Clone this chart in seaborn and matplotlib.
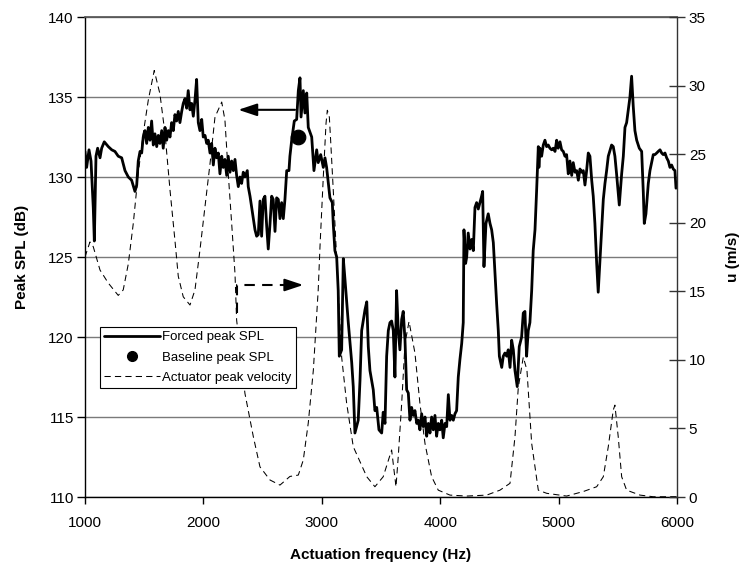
import matplotlib
matplotlib.use("Agg")
import matplotlib.pyplot as plt
import seaborn as sns
import pandas as pd
from matplotlib.lines import Line2D

# ---------------- data ----------------
freq_spl = [1000, 1014, 1034, 1051, 1070, 1079, 1093, 1107, 1127, 1141, 1163, 1197, 1226, 1253, 1281, 1310,
            1338, 1366, 1394, 1422, 1437, 1450, 1465, 1479, 1492, 1507, 1521, 1535, 1549, 1563, 1577, 1591,
            1606, 1619, 1633, 1648, 1661, 1676, 1690, 1704, 1718, 1732, 1746, 1760, 1774, 1788, 1802, 1817,
            1830, 1845, 1859, 1872, 1887, 1901, 1915, 1929, 1943, 1957, 1971, 1986, 1999, 2014, 2028, 2041,
            2056, 2070, 2084, 2098, 2112, 2126, 2140, 2155, 2168, 2182, 2197, 2210, 2225, 2239, 2253, 2267,
            2281, 2295, 2309, 2323, 2337, 2351, 2371, 2379, 2394, 2408, 2436, 2450, 2464, 2478, 2492, 2506,
            2520, 2535, 2548, 2563, 2577, 2590, 2605, 2619, 2633, 2647, 2661, 2675, 2689, 2704, 2723, 2731,
            2746, 2768, 2788, 2802, 2816, 2825, 2844, 2858, 2873, 2886, 2915, 2934, 2957, 2970, 2991, 3013,
            3027, 3041, 3069, 3089, 3097, 3111, 3126, 3139, 3148, 3168, 3182, 3196, 3224, 3253, 3266, 3280,
            3308, 3323, 3337, 3365, 3380, 3393, 3407, 3435, 3449, 3464, 3483, 3506, 3519, 3534, 3548, 3562,
            3576, 3590, 3604, 3618, 3632, 3646, 3660, 3675, 3688, 3703, 3717, 3731, 3745, 3759, 3773, 3787,
            3802, 3815, 3829, 3844, 3857, 3872, 3886, 3900, 3914, 3928, 3942, 3956, 3970, 3984, 3998, 4013,
            4026, 4041, 4055, 4069, 4083, 4097, 4111, 4125, 4139, 4153, 4167, 4182, 4195, 4201, 4215, 4224,
            4237, 4252, 4266, 4280, 4294, 4308, 4322, 4336, 4350, 4359, 4370, 4387, 4406, 4421, 4435, 4449,
            4463, 4477, 4491, 4500, 4520, 4533, 4547, 4562, 4575, 4590, 4604, 4618, 4632, 4651, 4668, 4688,
            4702, 4716, 4730, 4744, 4758, 4773, 4786, 4801, 4815, 4829, 4834, 4843, 4857, 4871, 4885, 4899,
            4913, 4927, 4942, 4955, 4970, 4984, 4997, 5012, 5026, 5040, 5054, 5068, 5082, 5096, 5111, 5124,
            5139, 5153, 5167, 5181, 5195, 5209, 5223, 5237, 5251, 5265, 5280, 5293, 5307, 5322, 5335, 5350,
            5364, 5378, 5392, 5406, 5420, 5448, 5462, 5476, 5490, 5513, 5533, 5547, 5561, 5575, 5589, 5603,
            5617, 5631, 5645, 5660, 5682, 5702, 5716, 5724, 5738, 5758, 5772, 5786, 5800, 5814, 5829, 5842,
            5857, 5871, 5884, 5899, 5913, 5927, 5941, 5955, 5969, 5983, 5992]
spl_db = [131.6, 130.6, 131.7, 131.0, 128.1, 126.0, 131.3, 131.8, 131.2, 131.8, 132.2, 131.9, 131.7, 131.6, 131.3, 131.2,
          130.4, 130.0, 129.8, 129.1, 129.5, 131.0, 131.6, 131.5, 132.5, 132.9, 132.1, 133.1, 132.3, 133.5, 132.0, 132.7,
          131.9, 132.6, 132.1, 132.9, 131.8, 133.1, 132.3, 132.9, 132.5, 133.4, 132.9, 133.9, 133.5, 134.1, 133.4, 134.1,
          134.6, 134.9, 134.3, 135.4, 134.2, 134.6, 133.8, 134.8, 136.1, 133.4, 132.9, 133.6, 132.5, 132.6, 132.1, 132.3,
          131.5, 132.1, 130.75, 131.8, 131.2, 131.5, 130.2, 131.3, 130.6, 131.1, 130.1, 131.3, 130.3, 131.0, 130.4, 131.1,
          130.1, 129.4, 130.0, 129.6, 130.3, 130.0, 130.4, 129.4, 128.8, 128.1, 126.7, 126.3, 126.4, 128.5, 126.3, 128.6,
          128.8, 126.9, 125.5, 127.1, 128.8, 128.6, 126.6, 128.7, 128.6, 127.4, 128.4, 127.4, 128.6, 130.4, 130.4, 131.3,
          132.3, 133.5, 133.6, 135.4, 136.2, 133.75, 135.4, 134.0, 135.25, 133.1, 132.5, 130.4, 131.7, 130.9, 131.4, 130.6,
          131.2, 130.6, 128.7, 128.4, 127.1, 125.4, 125.0, 122.9, 118.8, 119.2, 124.9, 123.6, 120.9, 118.4, 116.9, 114.0,
          114.8, 117.3, 120.4, 121.7, 122.2, 119.4, 117.9, 116.7, 115.4, 115.6, 114.2, 114.0, 115.3, 114.6, 118.8, 120.4,
          120.9, 121.0, 120.4, 117.5, 122.9, 120.4, 119.2, 121.1, 121.6, 119.8, 116.7, 116.5, 114.8, 115.6, 115.1, 115.4,
          114.6, 114.8, 114.2, 115.2, 114.4, 115.0, 113.8, 114.6, 114.0, 115.0, 114.2, 115.1, 113.8, 114.6, 114.2, 114.8,
          113.7, 114.6, 114.4, 116.4, 114.8, 115.1, 114.8, 115.2, 115.4, 117.5, 118.6, 119.6, 120.9, 126.7, 124.6, 125.0,
          126.5, 125.5, 126.1, 125.4, 128.1, 128.4, 128.0, 128.4, 128.8, 129.1, 124.4, 127.1, 127.7, 127.1, 126.7, 125.9,
          124.0, 122.1, 120.4, 118.8, 118.1, 118.8, 119.0, 118.8, 119.2, 118.1, 119.8, 119.2, 117.9, 116.9, 119.4, 120.0,
          121.5, 121.6, 118.8, 120.4, 120.9, 122.9, 125.4, 126.7, 129.2, 131.9, 130.6, 131.8, 131.3, 132.0, 132.3, 131.9,
          132.0, 131.8, 131.7, 131.8, 131.6, 132.3, 131.8, 132.2, 131.7, 131.6, 131.3, 131.4, 130.2, 131.0, 130.1, 130.9,
          130.3, 130.4, 129.8, 130.5, 130.3, 130.4, 129.5, 130.4, 131.5, 131.3, 129.8, 128.8, 127.1, 124.6, 122.8, 124.8,
          126.7, 128.6, 129.6, 130.4, 131.3, 132.0, 131.9, 131.3, 130.2, 128.25, 130.2, 131.3, 133.1, 133.4, 134.2, 135.0,
          136.3, 134.4, 132.9, 132.3, 131.8, 131.6, 129.0, 127.1, 127.7, 129.6, 130.4, 130.9, 131.4, 131.4, 131.5, 131.6,
          131.7, 131.5, 131.4, 131.5, 131.2, 131.0, 130.6, 130.75, 130.5, 130.4, 129.3]

freq_vel = [1000, 1042, 1070, 1127, 1197, 1281, 1323, 1366, 1408, 1450, 1492, 1535, 1585, 1633, 1676, 1718,
            1760, 1788, 1830, 1887, 1929, 1971, 2014, 2056, 2098, 2155, 2182, 2210, 2239, 2267, 2281, 2351,
            2422, 2478, 2563, 2647, 2731, 2802, 2844, 2886, 2929, 2970, 2985, 3013, 3036, 3047, 3064, 3075,
            3097, 3139, 3168, 3210, 3266, 3380, 3449, 3519, 3590, 3610, 3627, 3646, 3675, 3703, 3737, 3787,
            3829, 3872, 3928, 3984, 4083, 4224, 4393, 4505, 4590, 4632, 4660, 4702, 4733, 4773, 4829, 4900,
            5068, 5209, 5322, 5378, 5420, 5462, 5476, 5504, 5533, 5575, 5688, 5800, 5997]
vel_ms = [17.5, 18.6, 18.25, 16.55, 15.6, 14.7, 15.1, 17.0, 19.95, 23.6, 26.5, 28.95, 31.1, 29.4, 26.5, 22.4,
          18.7, 16.1, 14.6, 14.0, 15.1, 18.0, 21.2, 24.3, 27.7, 28.8, 27.5, 23.6, 19.95, 16.3, 12.9, 7.56,
          4.4, 2.2, 1.24, 0.87, 1.5, 1.6, 2.7, 5.4, 9.26, 15.1, 18.25, 23.35, 27.25, 28.2, 27.7, 26.0,
          22.4, 15.1, 10.2, 6.85, 3.67, 1.48, 0.75, 1.48, 3.43, 1.97, 0.75, 2.94, 6.83, 11.2, 12.8, 10.5,
          6.83, 3.9, 1.48, 0.5, 0.14, 0.07, 0.14, 0.5, 1.0, 4.4, 8.0, 10.2, 9.26, 3.9, 0.5, 0.27,
          0.07, 0.4, 0.75, 1.48, 3.67, 6.34, 6.7, 4.4, 1.48, 0.5, 0.14, 0.02, 0.02]

baseline_freq = [2802]
baseline_spl = [132.5]

series_labels = ["Forced peak SPL", "Baseline peak SPL", "Actuator peak velocity"]
x_ticks = [1000, 2000, 3000, 4000, 5000, 6000]
spl_ticks = [110, 115, 120, 125, 130, 135, 140]
vel_ticks = [0, 5, 10, 15, 20, 25, 30, 35]

# annotation arrows (data units)
solid_arrow = dict(x_from=2774, x_to=2295, y=134.2)
dashed_arrow = dict(x=2281, y_from=13.4, y=15.46, x_to=2844)

# ---------------- plot ----------------
sns.set_theme(style="white")
plt.rcParams["font.family"] = ["Liberation Sans", "DejaVu Sans"]
plt.rcParams["text.color"] = "black"
plt.rcParams["axes.labelcolor"] = "black"
plt.rcParams["xtick.color"] = "black"
plt.rcParams["ytick.color"] = "black"

df_spl = pd.DataFrame({"f": freq_spl, "spl": spl_db})
df_vel = pd.DataFrame({"f": freq_vel, "u": vel_ms})
df_base = pd.DataFrame({"f": baseline_freq, "spl": baseline_spl})

fig = plt.figure(figsize=(7.5, 5.69), dpi=100)
ax = fig.add_axes([0.1133, 0.1265, 0.7893, 0.8436])
ax2 = ax.twinx()

sns.lineplot(data=df_spl, x="f", y="spl", ax=ax, sort=False, estimator=None,
             color="black", lw=2.0, zorder=3)
sns.scatterplot(data=df_base, x="f", y="spl", ax=ax, color="black", s=110,
                edgecolor="black", zorder=4)
sns.lineplot(data=df_vel, x="f", y="u", ax=ax2, sort=False, estimator=None,
             color="black", lw=0.75, zorder=2)
for ln in ax2.get_lines():
    ln.set_dashes((6, 4))

ax.set_xlim(1000, 6000)
ax.set_ylim(110, 140)
ax2.set_ylim(0, 35)
ax.set_xticks(x_ticks)
ax.set_yticks(spl_ticks)
ax2.set_yticks(vel_ticks)

ax.yaxis.grid(True, color="#7a7a7a", lw=1.0)
ax.xaxis.grid(False)
ax2.grid(False)
ax.set_axisbelow(True)

for sp in ["left", "bottom"]:
    ax.spines[sp].set_color("black")
    ax.spines[sp].set_linewidth(1.0)
ax.spines["top"].set_color("#555555")
ax.spines["right"].set_visible(False)
ax2.spines["right"].set_color("#333333")
ax2.spines["right"].set_linewidth(1.0)
for sp in ["left", "bottom", "top"]:
    ax2.spines[sp].set_visible(False)

ax.tick_params(axis="y", direction="out", length=6, width=1, color="black",
               labelcolor="black", labelsize=11, pad=2, left=True)
ax.tick_params(axis="x", direction="out", length=5, width=1, color="black",
               labelcolor="black", labelsize=11, pad=9, bottom=True)
ax2.tick_params(axis="y", direction="inout", length=11, width=1, color="#333333",
                labelcolor="black", labelsize=11, pad=3, right=True)

ax.set_xlabel("Actuation frequency (Hz)", fontsize=11, fontweight="bold", color="black")
ax.set_ylabel("Peak SPL (dB)", fontsize=11, fontweight="bold", color="black")
ax2.set_ylabel("u (m/s)", fontsize=11, fontweight="bold", color="black")
ax.xaxis.label.set_verticalalignment("center")
ax.yaxis.label.set_verticalalignment("center")
ax2.yaxis.label.set_verticalalignment("center")
ax.xaxis.set_label_coords(0.5, -0.121)
ax.yaxis.set_label_coords(-0.107, 0.5)
ax2.yaxis.set_label_coords(1.095, 0.5)

# arrows
ax.annotate("", xy=(solid_arrow["x_to"], solid_arrow["y"]),
            xytext=(solid_arrow["x_from"], solid_arrow["y"]),
            arrowprops=dict(arrowstyle="-|>,head_length=0.75,head_width=0.25",
                            mutation_scale=15, color="black", lw=1.5,
                            shrinkA=0, shrinkB=0), zorder=5)
ax2.plot([dashed_arrow["x"], dashed_arrow["x"], dashed_arrow["x_to"] - 130],
         [dashed_arrow["y_from"], dashed_arrow["y"], dashed_arrow["y"]],
         color="black", lw=1.5, dashes=(5, 3.5), zorder=5)
ax2.annotate("", xy=(dashed_arrow["x_to"], dashed_arrow["y"]),
             xytext=(dashed_arrow["x_to"] - 130, dashed_arrow["y"]),
             arrowprops=dict(arrowstyle="-|>,head_length=0.75,head_width=0.25",
                             mutation_scale=15, color="black", lw=1.5,
                             shrinkA=0, shrinkB=0), zorder=5)

handles = [
    Line2D([], [], color="black", lw=2.0),
    Line2D([], [], color="black", lw=0, marker="o", markersize=7),
    Line2D([], [], color="black", lw=0.75, dashes=(6, 4)),
]
leg = ax2.legend(handles, series_labels, loc="lower left", bbox_to_anchor=(0.025, 0.2265),
                 fontsize=9.5, frameon=True, fancybox=False, framealpha=1,
                 edgecolor="black", handlelength=4.2, handletextpad=0.2,
                 labelspacing=0.6, borderpad=0.35, borderaxespad=0)
leg.get_frame().set_linewidth(0.8)
for t in leg.get_texts():
    t.set_color("black")
leg.set_zorder(10)

fig.savefig("out.png", dpi=100)
